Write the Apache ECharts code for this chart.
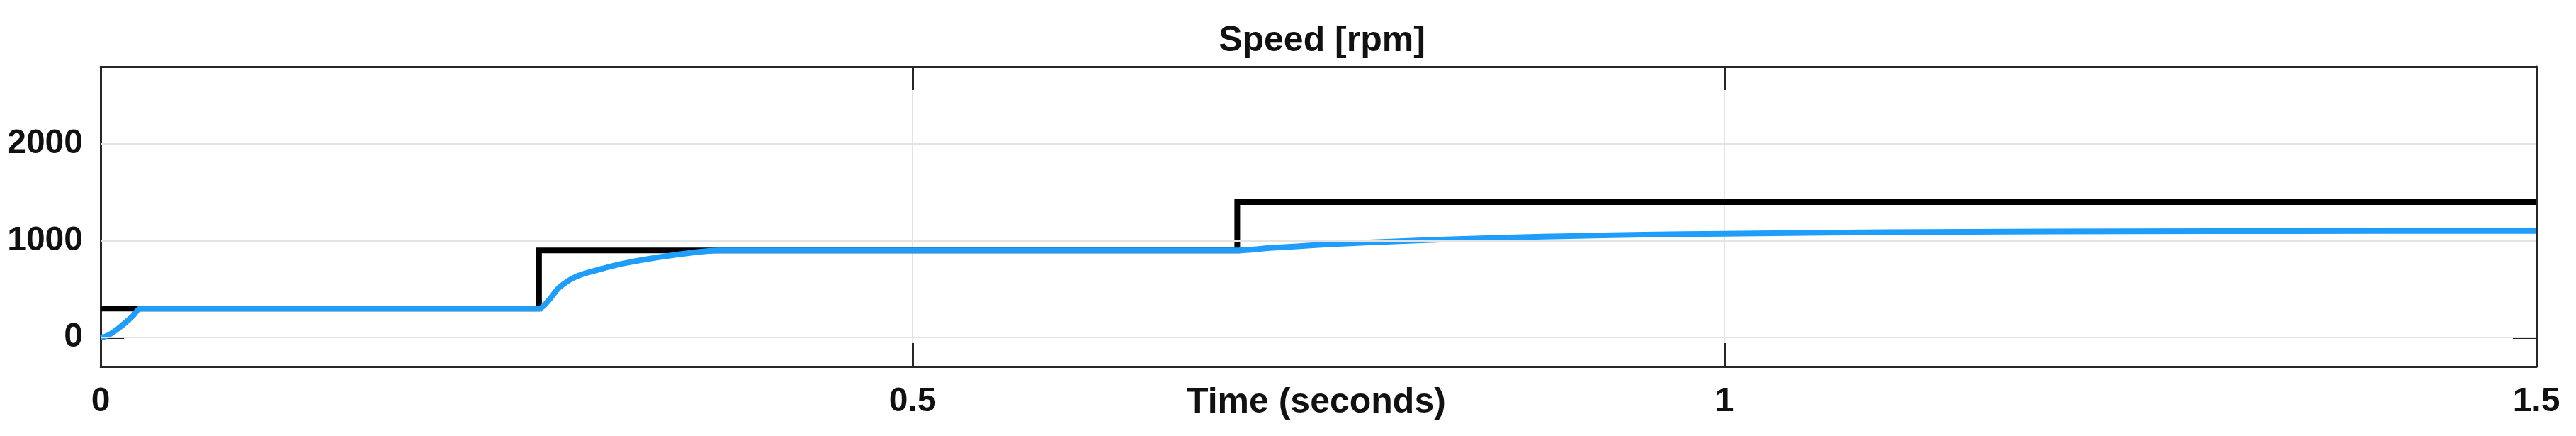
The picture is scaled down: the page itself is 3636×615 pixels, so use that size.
<!DOCTYPE html>
<html>
<head>
<meta charset="utf-8">
<script src="https://cdn.jsdelivr.net/npm/echarts@6/dist/echarts.min.js"></script>
<style>
html,body{margin:0;padding:0;background:#fff;}
#chart{width:3636px;height:615px;}
</style>
</head>
<body>
<div id="chart"></div>
<script>
// ---- data ----
const titleText = 'Speed [rpm]';
const xName = 'Time (seconds)';
const xTicks = [0, 0.5, 1, 1.5];
const yTicks = [0, 1000, 2000];
const xRange = [0, 1.5];
const yRange = [-300, 2800];

// reference speed (step): [time, rpm]
const refTime  = [0, 0.27, 0.27, 0.70, 0.70, 1.5];
const refSpeed = [300, 300, 900, 900, 1400, 1400];

// measured speed: [time, rpm]
const measTime  = [0, 0.003, 0.0064, 0.011, 0.015, 0.020, 0.0245, 0.10, 0.20, 0.27, 0.2755, 0.2827, 0.2929, 0.3075, 0.322, 0.3438, 0.3656, 0.38, 0.45, 0.55, 0.65, 0.70, 0.72, 0.75, 0.767, 0.80, 0.85, 0.876, 0.90, 0.95, 1.00, 1.10, 1.20, 1.30, 1.40, 1.50];
const measSpeed = [0, 12, 40, 95, 150, 225, 300, 300, 300, 300, 375, 520, 630, 705, 765, 830, 880, 900, 900, 900, 900, 900, 925, 956, 972, 996, 1025, 1038, 1047, 1063, 1073, 1088, 1096, 1099, 1101, 1101];

const refData = refTime.map((t, i) => [t, refSpeed[i]]);
const measData = measTime.map((t, i) => [t, measSpeed[i]]);

const FONT = '"Liberation Sans", Arial, Helvetica, sans-serif';
const frameColor = '#262626';
const gridColor = '#e3e3e3';

const chart = echarts.init(document.getElementById('chart'), null, {renderer: 'canvas'});

const labelStyle = {fontFamily: FONT, fontWeight: 'bold', fontSize: 48, color: '#111'};

chart.setOption({
  animation: false,
  backgroundColor: '#ffffff',
  title: {
    text: titleText,
    left: 1861,
    top: 28,
    textAlign: 'center',
    textStyle: {fontFamily: FONT, fontWeight: 'bold', fontSize: 50, color: '#111'}
  },
  graphic: [
    {
      type: 'text', left: 1861 - 186, top: 543, silent: true,
      style: {text: xName, font: 'bold 50px ' + FONT, fill: '#111'}
    }
  ],
  grid: {left: 142, right: 56, top: 94, bottom: 98, containLabel: false, outerBoundsMode: 'none'},
  xAxis: [
    {
      type: 'value', position: 'bottom',
      min: xRange[0], max: xRange[1], interval: 0.5,
      axisLine: {show: true, onZero: false, lineStyle: {color: frameColor, width: 3}},
      axisTick: {show: true, inside: true, length: 33, lineStyle: {color: frameColor, width: 3}},
      axisLabel: Object.assign({margin: 26, formatter: v => String(v)}, labelStyle),
      splitLine: {show: true, lineStyle: {color: gridColor, width: 2}}
    },
    {
      type: 'value', position: 'top',
      min: xRange[0], max: xRange[1], interval: 0.5,
      axisLine: {show: true, onZero: false, lineStyle: {color: frameColor, width: 3}},
      axisTick: {show: true, inside: true, length: 33, lineStyle: {color: frameColor, width: 3}},
      axisLabel: {show: false},
      splitLine: {show: false}
    }
  ],
  yAxis: [
    {
      type: 'value', position: 'left',
      min: yRange[0], max: yRange[1],
      axisLine: {show: true, onZero: false, lineStyle: {color: frameColor, width: 3}},
      axisTick: {show: true, inside: true, length: 33, customValues: yTicks, lineStyle: {color: frameColor, width: 3}},
      axisLabel: Object.assign({margin: 25, customValues: yTicks, formatter: v => String(v)}, labelStyle),
      splitLine: {show: false}
    },
    {
      type: 'value', position: 'right',
      min: yRange[0], max: yRange[1],
      axisLine: {show: true, onZero: false, lineStyle: {color: frameColor, width: 3}},
      axisTick: {show: true, inside: true, length: 33, customValues: yTicks, lineStyle: {color: frameColor, width: 3}},
      axisLabel: {show: false},
      splitLine: {show: false}
    }
  ],
  series: [
    {
      name: 'ygrid', type: 'line', data: [], z: 1, silent: true,
      markLine: {
        silent: true, symbol: ['none', 'none'], label: {show: false},
        lineStyle: {color: gridColor, width: 2, type: 'solid'},
        data: yTicks.map(v => ({yAxis: v}))
      }
    },
    {
      name: 'Reference', type: 'line', data: refData, xAxisIndex: 0, yAxisIndex: 0,
      showSymbol: false, symbol: 'none', z: 3,
      lineStyle: {color: '#000000', width: 8, join: 'miter'}
    },
    {
      name: 'Speed', type: 'line', data: measData, xAxisIndex: 0, yAxisIndex: 0,
      showSymbol: false, symbol: 'none', smooth: 0.3, z: 4,
      lineStyle: {color: '#1f9dfa', width: 8}
    }
  ]
});
</script>
</body>
</html>
